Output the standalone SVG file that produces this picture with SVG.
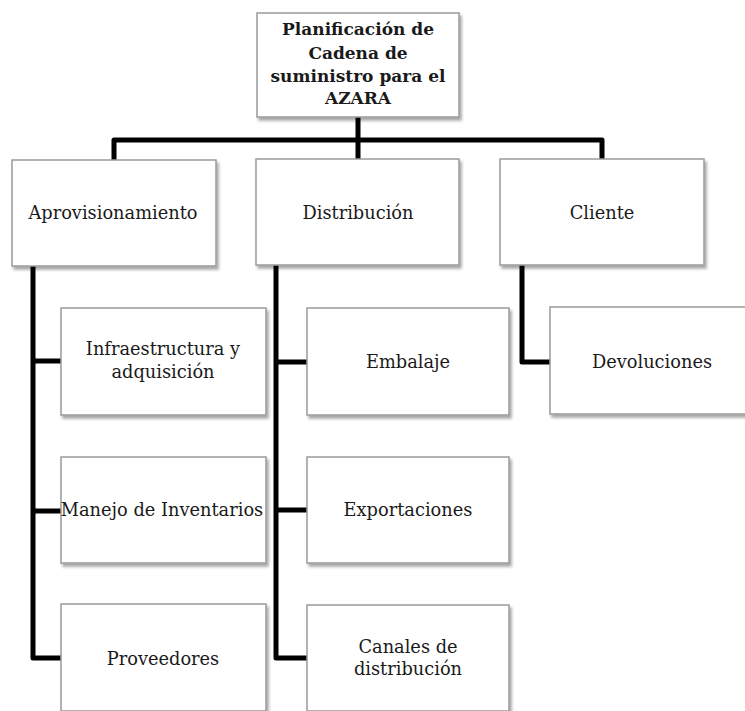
<svg xmlns="http://www.w3.org/2000/svg" width="745" height="711" viewBox="0 0 745 711">
<defs>
<filter id="sh" x="-10%" y="-10%" width="130%" height="130%">
<feDropShadow dx="2" dy="3" stdDeviation="1.5" flood-color="#000" flood-opacity="0.35"/>
</filter>
<style>
.box{fill:#fff;stroke:#9a9a9a;stroke-width:1.5;filter:url(#sh)}
.t{font-family:'DejaVu Serif','Liberation Serif',serif;font-size:17.8px;fill:#1a1a1a;text-anchor:middle}
.b{font-weight:bold;font-size:17px}
.c{fill:none;stroke:#000;stroke-width:5;stroke-linejoin:round}
</style>
</defs>
<rect width="745" height="711" fill="#fff"/>
<g id="connectors">
<path class="c" d="M358,117 V159"/>
<path class="c" d="M114,160 V140 H602 V159"/>
<path class="c" d="M33,266 V658 H61 M33,361 H61 M33,511 H61"/>
<path class="c" d="M276,265 V658 H307 M276,362 H307 M276,510 H307"/>
<path class="c" d="M522,265 V362 H550"/>
</g>
<g id="root">
<rect class="box" x="257" y="13" width="202" height="104"/>
<text class="t b"><tspan x="358" y="35">Planificación de</tspan><tspan x="358" y="59">Cadena de</tspan><tspan x="358" y="82">suministro para el</tspan><tspan x="358" y="104">AZARA</tspan></text>
</g>
<g id="aprovisionamiento">
<rect class="box" x="12" y="160" width="204" height="106"/>
<text class="t" x="113" y="219">Aprovisionamiento</text>
</g>
<g id="distribucion">
<rect class="box" x="256" y="159" width="203" height="106"/>
<text class="t" x="358" y="219">Distribución</text>
</g>
<g id="cliente">
<rect class="box" x="500" y="159" width="204" height="106"/>
<text class="t" x="602" y="219">Cliente</text>
</g>
<g id="infraestructura">
<rect class="box" x="61" y="308" width="205" height="107"/>
<text class="t"><tspan x="163" y="355">Infraestructura y</tspan><tspan x="163" y="378">adquisición</tspan></text>
</g>
<g id="manejo">
<rect class="box" x="61" y="457" width="205" height="106"/>
<text class="t" x="162" y="516">Manejo de Inventarios</text>
</g>
<g id="proveedores">
<rect class="box" x="61" y="604" width="205" height="107"/>
<text class="t" x="163" y="665">Proveedores</text>
</g>
<g id="embalaje">
<rect class="box" x="307" y="308" width="202" height="107"/>
<text class="t" x="408" y="368">Embalaje</text>
</g>
<g id="exportaciones">
<rect class="box" x="307" y="457" width="202" height="106"/>
<text class="t" x="408" y="516">Exportaciones</text>
</g>
<g id="canales">
<rect class="box" x="307" y="605" width="202" height="106"/>
<text class="t"><tspan x="408" y="653">Canales de</tspan><tspan x="408" y="675">distribución</tspan></text>
</g>
<g id="devoluciones">
<rect class="box" x="550" y="307" width="204" height="107"/>
<text class="t" x="652" y="368">Devoluciones</text>
</g>
</svg>
